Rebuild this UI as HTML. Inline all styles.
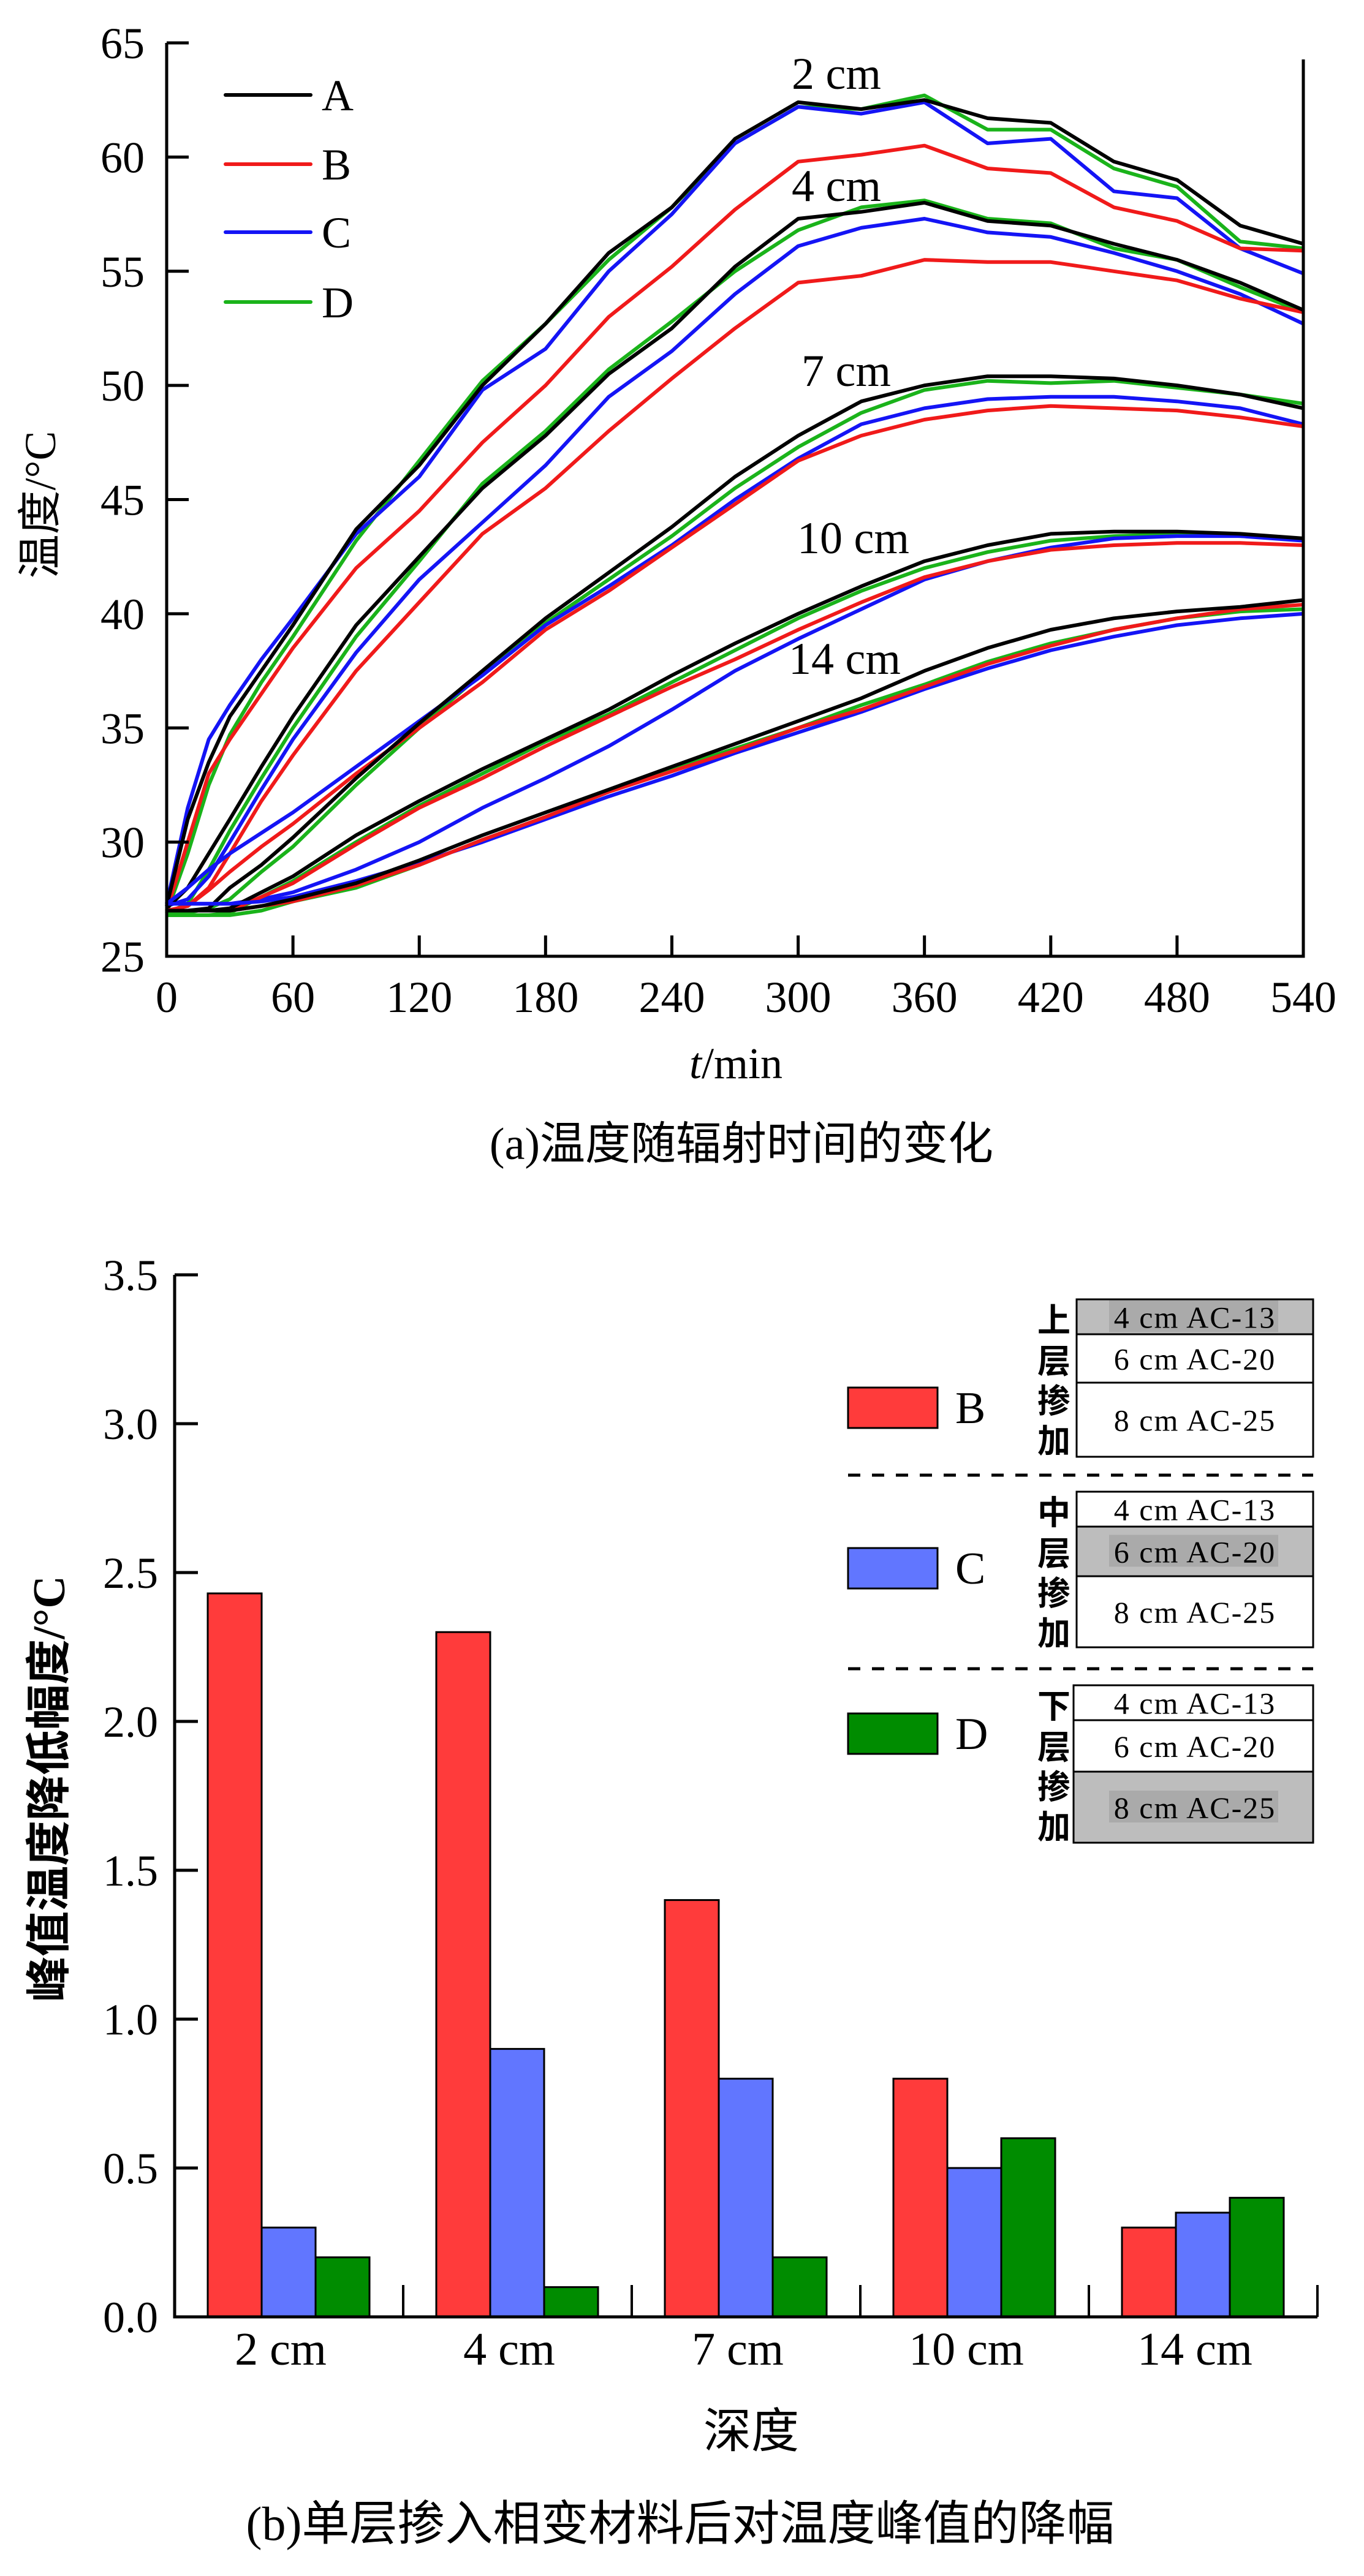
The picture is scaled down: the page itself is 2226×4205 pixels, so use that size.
<!DOCTYPE html>
<html><head><meta charset="utf-8"><style>
html,body{margin:0;padding:0;background:#fff;}
svg{display:block;}
text{font-family:"Liberation Serif","Noto Serif CJK SC","Noto Sans CJK SC",serif;fill:#000;}
.cjk{font-family:"Liberation Serif","Noto Sans CJK SC",sans-serif;}
</style></head><body>
<svg id="fig" width="2226" height="4205" viewBox="0 0 2226 4205" xmlns="http://www.w3.org/2000/svg">
<g id="topchart"></g>
<g id="botchart"></g>
</svg>
<script>
// ---------- Chart (a) data ----------
const times = [0,10,20,30,45,60,90,120,150,180,210,240,270,300,330,360,390,420,450,480,510,540];
const xTicks = [0,60,120,180,240,300,360,420,480,540];
const yTicks = [25,30,35,40,45,50,55,60,65];
const seriesNames = ["A","B","C","D"];
const depthLabels = ["2 cm","4 cm","7 cm","10 cm","14 cm"];
const d2A=[27.2,31,33.5,35.5,37.5,39.5,43.7,46.5,50,52.7,55.8,57.8,60.8,62.4,62.1,62.5,61.7,61.5,59.8,59,57,56.2];
const d2B=[27,30,33,34.5,36.5,38.5,42,44.5,47.5,50,53,55.2,57.7,59.8,60.1,60.5,59.5,59.3,57.8,57.2,56,55.9];
const d2C=[27.3,31.5,34.5,36,38,39.8,43.5,46,49.8,51.6,55,57.5,60.6,62.2,61.9,62.4,60.6,60.8,58.5,58.2,56,54.9];
const d2D=[26.9,29.5,32.5,34.7,37,39,43.2,46.7,50.2,52.7,55.5,57.8,60.6,62.2,62.1,62.7,61.2,61.2,59.5,58.7,56.3,56];
const d4A=[27.1,28,29.5,31,33.3,35.5,39.5,42.5,45.5,47.8,50.5,52.5,55.2,57.3,57.6,58,57.2,57,56.2,55.5,54.5,53.3];
const d4B=[27,27.2,28,29.5,31.8,33.8,37.5,40.5,43.5,45.5,48,50.3,52.5,54.5,54.8,55.5,55.4,55.4,55,54.6,53.8,53.2];
const d4C=[27.2,27.5,28.5,30,32.3,34.5,38.3,41.5,44,46.5,49.5,51.5,54,56.1,56.9,57.3,56.7,56.5,55.8,55,54,52.7];
const d4D=[26.9,27.3,28.8,30.5,32.8,35,39,42.3,45.7,48,50.7,52.8,55,56.8,57.8,58.1,57.3,57.1,56,55.5,54.3,53.2];
const d7A=[27,27,27.1,28,29,30.2,32.8,35.2,37.5,39.8,41.8,43.8,46,47.8,49.3,50,50.4,50.4,50.3,50,49.6,49];
const d7B=[27,27.2,27.9,28.7,29.8,30.8,33,35,37,39.3,41,42.9,44.8,46.7,47.8,48.5,48.9,49.1,49,48.9,48.6,48.2];
const d7C=[27.3,28,28.8,29.5,30.4,31.3,33.3,35.3,37.3,39.5,41.2,43,45,46.8,48.3,49,49.4,49.5,49.5,49.3,49,48.3];
const d7D=[26.9,26.9,27.1,27.5,28.7,29.8,32.5,35,37.4,39.6,41.5,43.4,45.5,47.3,48.8,49.8,50.2,50.1,50.2,49.9,49.6,49.2];
const d10A=[27,27,27,27.1,27.8,28.5,30.3,31.8,33.2,34.5,35.8,37.3,38.7,40,41.2,42.3,43,43.5,43.6,43.6,43.5,43.3];
const d10B=[27,27,27,27,27.6,28.2,29.9,31.5,32.8,34.2,35.5,36.8,38,39.3,40.5,41.6,42.3,42.8,43,43.1,43.1,43];
const d10C=[27.3,27.3,27.3,27.3,27.5,27.8,28.8,30,31.5,32.8,34.2,35.8,37.5,38.9,40.2,41.5,42.3,42.9,43.3,43.4,43.4,43.2];
const d10D=[26.8,26.8,26.8,26.9,27.6,28.3,30,31.6,33,34.4,35.6,37,38.4,39.8,41,42,42.7,43.2,43.4,43.5,43.4,43.3];
const d14A=[27,27,27,27,27.2,27.5,28.2,29.2,30.3,31.3,32.3,33.3,34.3,35.3,36.3,37.5,38.5,39.3,39.8,40.1,40.3,40.6];
const d14B=[27,27,27,27,27.2,27.4,28.1,29,30.1,31.1,32.2,33.1,34,35,35.8,36.8,37.8,38.6,39.3,39.8,40.2,40.4];
const d14C=[27.3,27.3,27.3,27.3,27.4,27.6,28.3,29.1,30,31,32,32.9,33.9,34.8,35.7,36.7,37.6,38.4,39,39.5,39.8,40];
const d14D=[26.8,26.8,26.8,26.8,27,27.4,28,29,30.1,31.1,32.2,33.2,34.1,35,36,36.9,37.9,38.7,39.3,39.8,40.1,40.2];

// ---------- Chart (b) data ----------
const barCategories = ["2 cm","4 cm","7 cm","10 cm","14 cm"];
const barB = [2.43,2.3,1.4,0.8,0.3];
const barC = [0.3,0.9,0.8,0.5,0.35];
const barD = [0.2,0.1,0.2,0.6,0.4];
const barTicks = ["0.0","0.5","1.0","1.5","2.0","2.5","3.0","3.5"];

const NS="http://www.w3.org/2000/svg";
function mk(parent,tag,attrs,txt){const e=document.createElementNS(NS,tag);for(const k in attrs)e.setAttribute(k,attrs[k]);if(txt!==undefined)e.textContent=txt;parent.appendChild(e);return e;}

// ===== Chart (a) =====
const topG=document.getElementById('topchart');
const X0=272,X1=2127,Y0=1561,Y1=70;
const xs=t=>X0+(t/540)*(X1-X0);
const ys=v=>Y0-(v-25)/40*(Y0-Y1);
const colors={A:"#000000",B:"#f01a1a",C:"#1414f5",D:"#1ab31a"};
const groups=[[d2A,d2B,d2C,d2D],[d4A,d4B,d4C,d4D],[d7A,d7B,d7C,d7D],[d10A,d10B,d10C,d10D],[d14A,d14B,d14C,d14D]];
groups.forEach((g,gi)=>{
  [3,2,1,0].forEach(si=>{
    const arr=g[si];
    const pts=arr.map((v,i)=>xs(times[i]).toFixed(1)+","+ys(v).toFixed(1)).join(" ");
    const pl=mk(topG,'polyline',{points:pts,fill:"none",stroke:colors[seriesNames[si]],"stroke-width":6,"stroke-linejoin":"round"});
    
    
  });
});
let ax=mk(topG,'path',{d:`M${X0},${Y1} L${X0},${Y0} L${X1},${Y0} L${X1},97`,fill:"none",stroke:"#000","stroke-width":5});


xTicks.forEach(t=>{
  if(t>0&&t<540){const tk=mk(topG,'line',{x1:xs(t),x2:xs(t),y1:Y0,y2:Y0-34,stroke:"#000","stroke-width":5});
    
    }
  const l=mk(topG,'text',{x:xs(t),y:1652,"font-size":72,"text-anchor":"middle"},String(t));
  
  
});
yTicks.forEach(v=>{
  if(v>25){const tk=mk(topG,'line',{x1:X0,x2:X0+36,y1:ys(v),y2:ys(v),stroke:"#000","stroke-width":5});
    
    }
  const l=mk(topG,'text',{x:236,y:ys(v)+25,"font-size":72,"text-anchor":"end"},String(v));
  
  
});
const legY=[155,268,379,493];
seriesNames.forEach((n,i)=>{
  const ln=mk(topG,'line',{x1:368,x2:507,y1:legY[i],y2:legY[i],stroke:colors[n],"stroke-width":6,"stroke-linecap":"round"});
  
  
  const t=mk(topG,'text',{x:525,y:legY[i]+25,"font-size":72},n);
  
  
});
const annX=[1292,1292,1308,1301,1287];
const annY=[145,328,630,903,1100];
depthLabels.forEach((d,i)=>{
  const t=mk(topG,'text',{x:annX[i],y:annY[i],"font-size":74},d);
  
  
});
let yt=mk(topG,'text',{x:0,y:0,"font-size":72,"text-anchor":"middle",transform:"translate(90,824) rotate(-90)",class:"cjk"},"温度/°C");


let xt=mk(topG,'text',{x:1201,y:1760,"font-size":72,"text-anchor":"middle"});


mk(xt,'tspan',{"font-style":"italic"},"t");mk(xt,'tspan',{},"/min");
let ca=mk(topG,'text',{x:1210,y:1892,"font-size":74,"text-anchor":"middle",class:"cjk"},"(a)温度随辐射时间的变化");



// ===== Chart (b) =====
const botG=document.getElementById('botchart');
const BX0=285,BGW=373,BY0=3782,BPX=486;
const by=v=>BY0-v*BPX;
const barCol=["#ff3b3b","#6176ff","#008c00"];
const barSeries=[barB,barC,barD];
const barSerNames=["B","C","D"];
barCategories.forEach((c,i)=>{
  barSeries.forEach((s,si)=>{
    const x=BX0+BGW*i+54+88*si;
    const r=mk(botG,'rect',{x:x,y:by(s[i]),width:88,height:BY0-by(s[i]),fill:barCol[si],stroke:"#000","stroke-width":3});
    
    
  });
  const l=mk(botG,'text',{x:BX0+BGW*i+173,y:3860,"font-size":76,"text-anchor":"middle"},c);
  
  
  const tk=mk(botG,'line',{x1:BX0+BGW*(i+1),x2:BX0+BGW*(i+1),y1:BY0,y2:BY0-52,stroke:"#000","stroke-width":4});
  
  
});
let bax=mk(botG,'path',{d:`M${BX0},${by(3.5)} L${BX0},${BY0} L${BX0+BGW*5},${BY0}`,fill:"none",stroke:"#000","stroke-width":5});


barTicks.forEach(s=>{
  const v=parseFloat(s);
  if(v>0){const tk=mk(botG,'line',{x1:BX0,x2:BX0+38,y1:by(v),y2:by(v),stroke:"#000","stroke-width":5});
    
    }
  const l=mk(botG,'text',{x:258,y:by(v)+25,"font-size":72,"text-anchor":"end"},s);
  
  
});
let byt=mk(botG,'text',{x:0,y:0,"font-size":74,"font-weight":"bold","text-anchor":"middle",transform:"translate(105,2920) rotate(-90)",class:"cjk"},"峰值温度降低幅度/°C");


let bxt=mk(botG,'text',{x:1226,y:3995,"font-size":78,"text-anchor":"middle",class:"cjk"},"深度");


let cb=mk(botG,'text',{x:1110,y:4146,"font-size":78,"text-anchor":"middle",class:"cjk"},"(b)单层掺入相变材料后对温度峰值的降幅");



const swY=[2265,2527,2797];
barSerNames.forEach((n,i)=>{
  const r=mk(botG,'rect',{x:1384,y:swY[i],width:146,height:66,fill:barCol[i],stroke:"#000","stroke-width":3});
  
  
  const t=mk(botG,'text',{x:1559,y:swY[i]+58,"font-size":74},n);
  
  
});
[2408,2724].forEach(y=>{
  const d=mk(botG,'line',{x1:1384,x2:2143,y1:y,y2:y,stroke:"#000","stroke-width":5,"stroke-dasharray":"20 19"});
  
  
});
const boxes=[
  {x:1757,w:386,ys:[2121,2178,2257,2378],g:0,lab:"上层掺加",ly:[2154,2221,2286,2351]},
  {x:1757,w:386,ys:[2435,2492,2573,2689],g:1,lab:"中层掺加",ly:[2468,2535,2600,2665]},
  {x:1752,w:391,ys:[2751,2808,2892,3008],g:2,lab:"下层掺加",ly:[2784,2851,2916,2981]}];
const layerNames=["4 cm AC-13","6 cm AC-20","8 cm AC-25"];
boxes.forEach((b,bi)=>{
  for(let k=0;k<3;k++){
    const y0=b.ys[k],y1=b.ys[k+1];
    const r=mk(botG,'rect',{x:b.x,y:y0,width:b.w,height:y1-y0,fill:k===b.g?"#bdbdbd":"#fff",stroke:"#000","stroke-width":3});
    
    
    if(k===b.g){const h=mk(botG,'rect',{x:1810,y:(y0+y1)/2-27,width:276,height:52,fill:"#aaaaaa"});
      
      }
    const t=mk(botG,'text',{x:1950,y:(y0+y1)/2+18,"font-size":50,"text-anchor":"middle","letter-spacing":"2"},layerNames[k]);
    
    
  }
  [...b.lab].forEach((ch,ci)=>{
    const t=mk(botG,'text',{x:1720,y:b.ly[ci]+20,"font-size":54,"font-weight":"bold","text-anchor":"middle",class:"cjk"},ch);
    
    
  });
});
</script>
</body></html>
